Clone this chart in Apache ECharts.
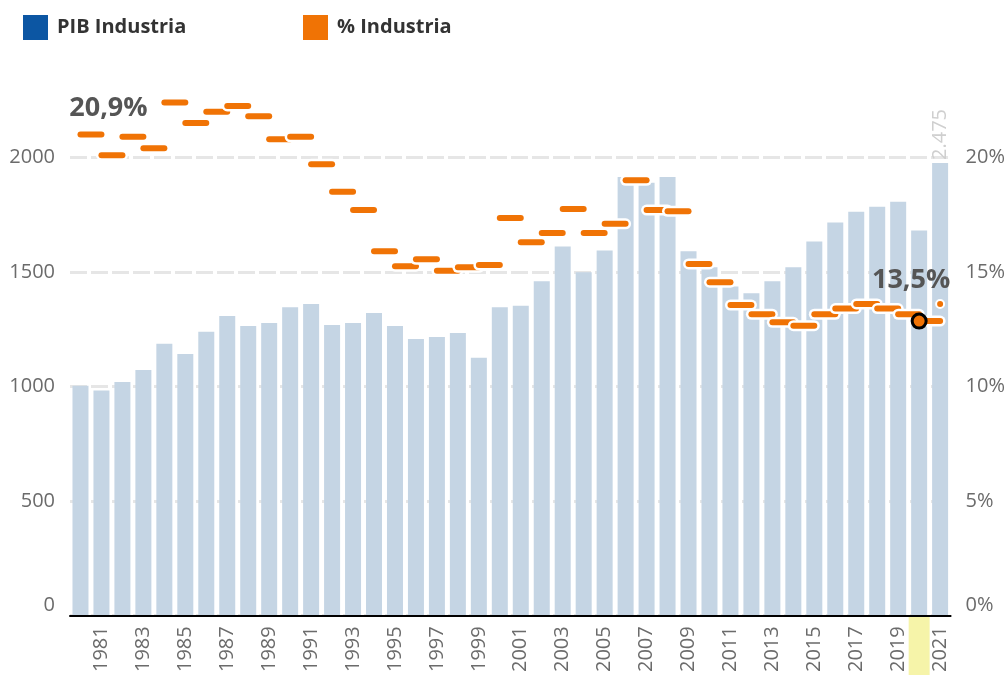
<!DOCTYPE html>
<html>
<head>
<meta charset="utf-8">
<script src="https://cdn.jsdelivr.net/npm/echarts@6/dist/echarts.min.js"></script>
<style>
  html, body { margin: 0; padding: 0; background: #fff; }
  #chart { width: 1008px; height: 675px; }
</style>
</head>
<body>
<div id="chart"></div>
<script>
// años (categorías del eje X)
var years = ['1980', '1981', '1982', '1983', '1984', '1985', '1986', '1987', '1988', '1989',
    '1990', '1991', '1992', '1993', '1994', '1995', '1996', '1997', '1998', '1999',
    '2000', '2001', '2002', '2003', '2004', '2005', '2006', '2007', '2008', '2009',
    '2010', '2011', '2012', '2013', '2014', '2015', '2016', '2017', '2018', '2019',
    '2020', '2021'];
// PIB Industria, un valor por año
var pibValues = [1003, 982, 1019, 1071, 1186, 1141, 1239, 1307, 1264, 1277,
    1346, 1360, 1268, 1277, 1320, 1264, 1207, 1216, 1233, 1125,
    1346, 1352, 1459, 1611, 1498, 1594, 1915, 1890, 1915, 1590,
    1520, 1436, 1407, 1459, 1520, 1633, 1716, 1763, 1785, 1807,
    1681, 1976];
// % Industria, de 1981 a 2021 (cada tramo va del año anterior al año)
var pctValues = [21.0, 20.1, 20.9, 20.4, 22.4, 21.5, 22.0, 22.25, 21.8, 20.8,
    20.9, 19.7, 18.5, 17.7, 15.9, 15.25, 15.55, 15.05, 15.2, 15.3,
    17.35, 16.3, 16.7, 17.75, 16.7, 17.1, 19.0, 17.7, 17.65, 15.35,
    14.55, 13.55, 13.15, 12.8, 12.65, 13.15, 13.4, 13.6, 13.4, 13.15,
    12.85];
// anotaciones
var noteYears = ['1981', '2021'];
var noteValues = [21.0, 13.6];
var noteTexts = ['20,9%', '13,5%'];
var barNoteYear = '2021';
var barNoteText = '2.475';
var highlightYear = '2020';
// ticks
var leftTicks = [0, 500, 1000, 1500, 2000];
var rightTicks = [0, 5, 10, 15, 20];

var orange = '#f07305';
var font = 'Open Sans';

var chart = echarts.init(document.getElementById('chart'));

var barData = pibValues.map(function (v, i) {
    if (years[i] == barNoteYear) {
        return {
            value: v,
            label: {
                show: true, position: 'top', rotate: 90, align: 'left', verticalAlign: 'middle',
                distance: 3, formatter: barNoteText, color: '#cfcfcf', fontSize: 20, fontFamily: font
            }
        };
    }
    return v;
});

var dashData = pctValues.map(function (v, i) {
    return [years[i], years[i + 1], v];
});

var noteData = noteYears.map(function (y, i) {
    var item = { value: [y, noteValues[i]] };
    if (i == 0) {
        item.symbolSize = 0;
        item.label = { offset: [7, 0], distance: 13 };
    } else {
        item.symbolSize = 8;
        item.label = { offset: [-29, 0], distance: 5 };
    }
    return item;
});

function renderDash(params, api) {
    var a = api.coord([api.value(0), api.value(2)]);
    var b = api.coord([api.value(1), api.value(2)]);
    var shape = { x1: a[0], y1: a[1], x2: b[0], y2: b[1] };
    return {
        type: 'group',
        children: [
            { type: 'line', shape: shape, style: { stroke: '#fff', lineWidth: 11, lineCap: 'round' } },
            { type: 'line', shape: shape, style: { stroke: orange, lineWidth: 6, lineCap: 'round' } }
        ]
    };
}

// franja amarilla bajo el eje para el año resaltado
function renderHighlight(params, api) {
    var p = api.coord([api.value(0), 0]);
    var w = api.size([1, 0])[0];
    return {
        type: 'rect',
        shape: { x: p[0] - w / 2, y: p[1] + 1.5, width: w, height: 80 },
        style: { fill: '#f6f4a9' }
    };
}

var option = {
    backgroundColor: '#fff',
    animation: false,
    textStyle: { fontFamily: font },
    legend: [{
        left: 23, top: 15, padding: 0, itemWidth: 25, itemHeight: 25, selectedMode: false,
        icon: 'rect',
        textStyle: { fontSize: 20, fontWeight: 'bold', color: '#333', fontFamily: font, padding: [0, 0, 0, 4] },
        data: [{ name: 'PIB Industria', itemStyle: { color: '#0c56a3' } }]
    }, {
        left: 303, top: 15, padding: 0, itemWidth: 25, itemHeight: 25, selectedMode: false,
        icon: 'rect',
        textStyle: { fontSize: 20, fontWeight: 'bold', color: '#333', fontFamily: font, padding: [0, 0, 0, 4] },
        data: [{ name: '% Industria', itemStyle: { color: orange } }]
    }],
    grid: { left: 70, right: 56, top: 43, bottom: 56 },
    xAxis: {
        type: 'category',
        data: years,
        z: 5,
        axisLine: { lineStyle: { color: '#000', width: 2 } },
        axisTick: { show: false },
        axisLabel: {
            rotate: 90, margin: 11, color: '#6b6b6b', fontSize: 20, fontFamily: font,
            interval: function (idx) { return idx % 2 == 1; }
        }
    },
    yAxis: [{
        type: 'value', min: 0, max: 2500, interval: 500,
        axisLine: { show: false }, axisTick: { show: false },
        axisLabel: {
            margin: 15, color: '#6b6b6b', fontSize: 20, fontFamily: font,
            showMaxLabel: false, verticalAlignMinLabel: 'bottom',
            formatter: function (v) { return leftTicks.indexOf(v) >= 0 ? String(v) : ''; }
        },
        splitLine: {
            showMaxLine: false,
            lineStyle: { color: '#e6e6e6', width: 3, type: [17, 4] }
        }
    }, {
        type: 'value', min: 0, max: 25, interval: 5, position: 'right',
        axisLine: { show: false }, axisTick: { show: false },
        axisLabel: {
            margin: 15, color: '#6b6b6b', fontSize: 20, fontFamily: font,
            showMaxLabel: false, verticalAlignMinLabel: 'bottom',
            formatter: function (v) { return rightTicks.indexOf(v) >= 0 ? v + '%' : ''; }
        },
        splitLine: { show: false }
    }],
    series: [{
        name: 'highlight',
        type: 'custom',
        renderItem: renderHighlight,
        data: [[highlightYear]],
        encode: { x: 0 },
        clip: false,
        silent: true,
        z: 1
    }, {
        name: 'PIB Industria',
        type: 'bar',
        data: barData,
        barWidth: 16,
        itemStyle: { color: '#c5d5e4' },
        z: 2
    }, {
        name: '% Industria',
        type: 'custom',
        yAxisIndex: 1,
        renderItem: renderDash,
        data: dashData,
        encode: { x: [0, 1], y: 2 },
        itemStyle: { color: orange },
        clip: false,
        z: 3
    }, {
        name: 'circle',
        type: 'scatter',
        yAxisIndex: 1,
        data: [[highlightYear, pctValues[pctValues.length - 1]]],
        symbolSize: 14,
        itemStyle: { color: orange, borderColor: '#000', borderWidth: 3, opacity: 1 },
        z: 4
    }, {
        name: 'notes',
        type: 'scatter',
        yAxisIndex: 1,
        data: noteData,
        itemStyle: { color: orange, borderColor: '#fff', borderWidth: 2, opacity: 1 },
        label: {
            show: true, position: 'top', color: '#555', fontSize: 27, fontWeight: 'bold', fontFamily: font,
            formatter: function (p) { return noteTexts[p.dataIndex]; }
        },
        z: 5
    }]
};

chart.setOption(option);
</script>
</body>
</html>
